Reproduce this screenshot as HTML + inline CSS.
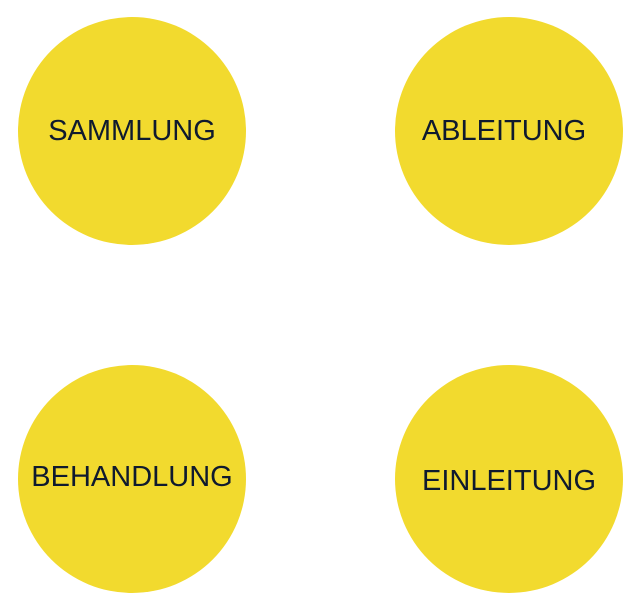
<!DOCTYPE html>
<html><head><meta charset="utf-8"><style>
html,body{margin:0;padding:0;background:#fff;width:641px;height:613px;overflow:hidden}
.c{position:absolute;width:228px;height:228px;border-radius:50%;background:#F2DA2E;display:flex;align-items:center;justify-content:center;font-family:"Liberation Sans",sans-serif;font-size:29px;color:#0f1a2e;white-space:nowrap}
</style></head><body>
<div class="c" style="left:18px;top:17px">SAMMLUNG</div>
<div class="c" style="left:395px;top:17px"><span style="margin-left:-10px">ABLEITUNG</span></div>
<div class="c" style="left:18px;top:365px"><span style="margin-top:-4px">BEHANDLUNG</span></div>
<div class="c" style="left:395px;top:365px"><span style="margin-top:4px">EINLEITUNG</span></div>
</body></html>
